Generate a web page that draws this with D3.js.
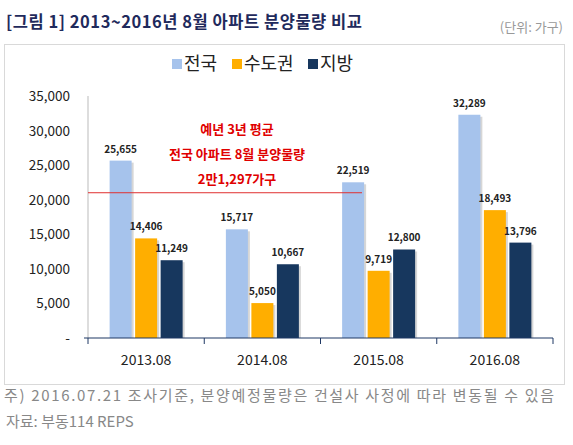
<!DOCTYPE html><html><head><meta charset="utf-8"><script src="https://cdn.jsdelivr.net/npm/d3@7"></script>
<style>body{margin:0;background:#fff;font-family:"Noto Sans CJK KR","Noto Sans",sans-serif}</style></head><body><svg id="c" width="573" height="445"></svg>
<script>
const categories=["2013.08","2014.08","2015.08","2016.08"];
const seriesNames=["전국","수도권","지방"];
const nation=[25655,15717,22519,32289];
const capital=[14406,5050,9719,18493];
const region=[11249,10667,12800,13796];
const yTicks=[0,5000,10000,15000,20000,25000,30000,35000];
const avg=21297;
const colors=["#a6c3ec","#ffae00","#17375e"];
const svg=d3.select("#c");
svg.append("rect").attr("x",4.5).attr("y",44.5).attr("width",560).attr("height",340).attr("fill","#fff").attr("stroke","#d9d9d9");
svg.append("text").attr("x",6).attr("y",28).attr("font-size",16.5).attr("font-weight","bold").attr("fill","#1f2a5c").attr("textLength",356).text("[그림 1] 2013~2016년 8월 아파트 분양물량 비교");
svg.append("text").attr("x",563).attr("y",32).attr("text-anchor","end").attr("font-size",13).attr("fill","#999").text("(단위: 가구)");
const x=d3.scaleBand().domain(categories).range([88,553]);
const y=d3.scaleLinear().domain([0,35000]).range([338,96]);
const fmt=d3.format(",");
const lg=svg.append("g");
const lx=[172,257,308+ 0];
const lxs=[172,232,308];
seriesNames.forEach((n,i)=>{lg.append("rect").attr("x",lxs[i]).attr("y",59).attr("width",10).attr("height",10).attr("fill",colors[i]);
lg.append("text").attr("x",lxs[i]+12).attr("y",70).attr("font-size",18).attr("fill","#222").text(n);});
yTicks.forEach(t=>svg.append("text").attr("x",70).attr("y",y(t)+5).attr("text-anchor","end").attr("font-size",13.5).attr("fill","#222").text(t===0?"-":fmt(t)));
svg.append("line").attr("x1",88).attr("x2",88).attr("y1",96).attr("y2",338).attr("stroke","#bbb");
const data=[nation,capital,region];
const bw=22,gap=3.5;
categories.forEach((c,ci)=>{
 const cx=x(c)+x.bandwidth()/2;
 data.forEach((s,si)=>{
  const bx=cx+(si-1)*(bw+gap)-bw/2;
  svg.append("rect").attr("x",bx+2).attr("y",y(s[ci])+2).attr("width",bw).attr("height",y(0)-y(s[ci])-2).attr("fill","#bbb").attr("opacity",0.6);
  svg.append("rect").attr("x",bx).attr("y",y(s[ci])).attr("width",bw).attr("height",y(0)-y(s[ci])).attr("fill",colors[si]);
  svg.append("text").attr("x",bx+bw/2).attr("y",y(s[ci])-8).attr("text-anchor","middle").attr("font-size",10).attr("font-weight","bold").attr("fill","#222").text(fmt(s[ci]));
 });
 svg.append("text").attr("x",cx).attr("y",365).attr("text-anchor","middle").attr("font-size",14).attr("fill","#222").text(c);
});
svg.append("line").attr("x1",84).attr("x2",553).attr("y1",338).attr("y2",338).attr("stroke","#1f3864").attr("stroke-width",1.2);
[...categories.map(c=>x(c)),553].forEach(t=>svg.append("line").attr("x1",t).attr("x2",t).attr("y1",338).attr("y2",344).attr("stroke","#1f3864"));
svg.append("line").attr("x1",88).attr("x2",362).attr("y1",y(avg)+2).attr("y2",y(avg)+2).attr("stroke","#e03030").attr("stroke-width",1);
[["예년 3년 평균",134],["전국 아파트 8월 분양물량",159],["2만1,297가구",184]].forEach(([t,yy])=>svg.append("text").attr("x",237).attr("y",yy).attr("text-anchor","middle").attr("font-size",13).attr("font-weight","bold").attr("fill","#e00000").text(t));
svg.append("text").attr("x",4).attr("y",401).attr("font-size",15).attr("fill","#888").attr("textLength",550).text("주) 2016.07.21 조사기준, 분양예정물량은 건설사 사정에 따라 변동될 수 있음");
svg.append("text").attr("x",6).attr("y",427).attr("font-size",15).attr("fill","#888").text("자료: 부동114 REPS");
</script></body></html>
